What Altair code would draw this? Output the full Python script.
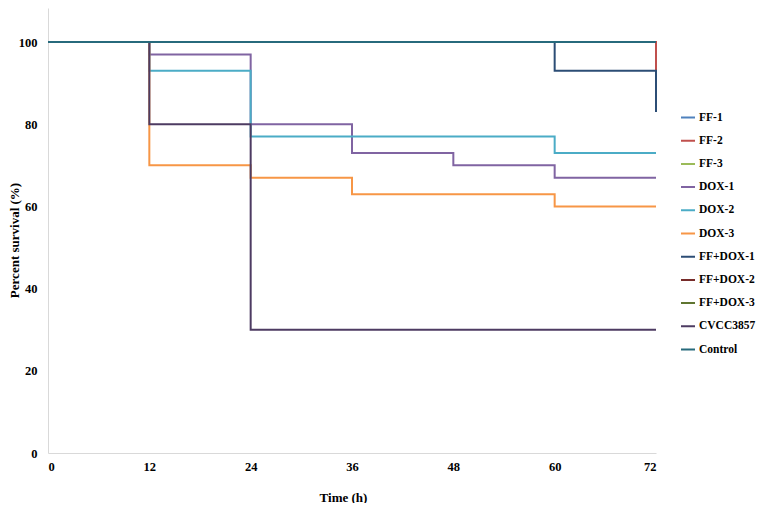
import altair as alt
import pandas as pd

times = [0, 12, 24, 36, 48, 60, 72]
series = ["FF-1", "FF-2", "FF-3", "DOX-1", "DOX-2", "DOX-3",
          "FF+DOX-1", "FF+DOX-2", "FF+DOX-3", "CVCC3857", "Control"]
ff1 = [100, 100, 100, 100, 100, 100, 100]
ff2 = [100, 100, 100, 100, 100, 100, 93]
ff3 = [100, 100, 100, 100, 100, 100, 100]
dox1 = [100, 97, 80, 73, 70, 67, 67]
dox2 = [100, 93, 77, 77, 77, 73, 73]
dox3 = [100, 70, 67, 63, 63, 60, 60]
ffdox1 = [100, 100, 100, 100, 100, 93, 83]
ffdox2 = [100, 100, 100, 100, 100, 100, 100]
ffdox3 = [100, 100, 100, 100, 100, 100, 100]
cvcc = [100, 80, 30, 30, 30, 30, 30]
control = [100, 100, 100, 100, 100, 100, 100]
colors = ["#4f81bd", "#c0504d", "#9bbb59", "#8064a2", "#4bacc6", "#f79646",
          "#2c4d75", "#772c2a", "#5f7530", "#4d3b62", "#276a7c"]

values = [ff1, ff2, ff3, dox1, dox2, dox3, ffdox1, ffdox2, ffdox3, cvcc, control]
rows = []
for i, (name, vals) in enumerate(zip(series, values)):
    for t, v in zip(times, vals):
        rows.append({"Series": name, "Time": t, "Survival": v, "idx": i})
df = pd.DataFrame(rows)

font = "Liberation Serif"

chart = alt.Chart(df).mark_line(interpolate="step-after", strokeWidth=2).encode(
    x=alt.X("Time:Q",
            scale=alt.Scale(domain=[0, 72], nice=False, zero=True),
            axis=alt.Axis(values=times, title="Time (h)", grid=False, ticks=False,
                          domainColor="#d9d9d9", labelPadding=7,
                          labelFont=font, labelFontWeight="bold", labelFontSize=12.5,
                          labelColor="black", titleFont=font, titleFontWeight="bold",
                          titleFontSize=13, titleColor="black", titleX=295, titleY=44,
                          titleBaseline="middle")),
    y=alt.Y("Survival:Q",
            scale=alt.Scale(domain=[0, 108.3], nice=False, zero=True),
            axis=alt.Axis(values=[0, 20, 40, 60, 80, 100], title="Percent survival (%)",
                          grid=False, ticks=False, domainColor="#d9d9d9", labelPadding=11,
                          labelFont=font, labelFontWeight="bold", labelFontSize=12.5,
                          labelColor="black", titleFont=font, titleFontWeight="bold",
                          titleFontSize=13, titleColor="black", titleX=-34, titleY=232,
                          titleAngle=-90, titleBaseline="middle")),
    color=alt.Color("Series:N",
                    scale=alt.Scale(domain=series, range=colors),
                    sort=series,
                    legend=alt.Legend(title=None, orient="none", legendX=632, legendY=103,
                                      symbolType="stroke", symbolSize=196, symbolStrokeWidth=2,
                                      labelFont=font, labelFontWeight="bold", labelFontSize=11.5,
                                      labelColor="black", clipHeight=13, rowPadding=10.2,
                                      labelOffset=3)),
    order=alt.Order("Time:Q"),
    detail="idx:O",
).properties(
    width=608, height=445,
    autosize=alt.AutoSizeParams(type="none"),
    padding={"left": 40, "top": 0, "right": 104, "bottom": 50},
).configure(background="white", view=alt.ViewConfig(stroke=None))

chart.save("out.html", embed_options={"renderer": "svg", "actions": False})
